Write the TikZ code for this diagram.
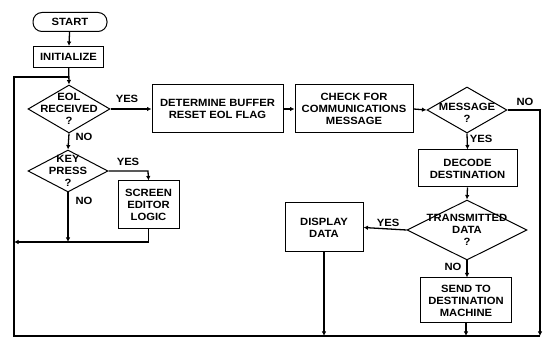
\documentclass[tikz,border=0pt]{standalone}
\usepackage{fontspec}
\setmainfont{Liberation Sans}[FakeStretch=1.07]
\usetikzlibrary{arrows.meta,shapes.geometric}
\begin{document}
\begin{tikzpicture}[x=1pt,y=-1pt,
  font=\fontsize{10.5}{12}\selectfont\bfseries,
  every node/.style={align=center},
  box/.style={draw,line width=1pt,inner sep=0pt},
  dia/.style={draw,line width=1pt,diamond,inner sep=0pt},
  txt/.style={inner sep=0pt},
  lbl/.style={inner sep=0pt},
  conn/.style={line width=1.3pt},
  arr/.style={conn,-{Latex[length=4.5pt,width=4.5pt]}}]
\useasboundingbox (0,0) rectangle (544,339);
% nodes
\node[box,rounded corners=9pt,minimum width=74pt,minimum height=19pt] (start) at (70,22) {START};
\node[box,minimum width=70pt,minimum height=21pt] (init) at (68.5,57) {INITIALIZE};
\node[dia,minimum width=82pt,minimum height=48pt] (eol) at (69,109) {};
\node[txt] at (eol) {EOL\\RECEIVED\\?};
\node[dia,minimum width=80pt,minimum height=42pt] (key) at (68,171) {};
\node[txt] at (key) {KEY\\PRESS\\?};
\node[box,minimum width=61pt,minimum height=48pt] (screen) at (148.5,205) {SCREEN\\EDITOR\\LOGIC};
\node[box,minimum width=131pt,minimum height=48pt] (det) at (217.5,109) {DETERMINE BUFFER\\RESET EOL FLAG};
\node[box,minimum width=118pt,minimum height=48pt] (chk) at (354,109) {CHECK FOR\\COMMUNICATIONS\\MESSAGE};
\node[dia,minimum width=80pt,minimum height=46pt] (msg) at (467,110) {};
\node[txt] at ([yshift=-3pt]msg) {MESSAGE\\?};
\node[box,minimum width=99pt,minimum height=37pt] (dec) at (467.5,168.5) {DECODE\\DESTINATION};
\node[dia,minimum width=120pt,minimum height=60pt] (trn) at (467,230) {};
\node[txt] at (trn) {TRANSMITTED\\DATA\\?};
\node[box,minimum width=78pt,minimum height=49pt] (disp) at (324,227.5) {DISPLAY\\DATA};
\node[box,minimum width=91pt,minimum height=45pt] (send) at (466,300.5) {SEND TO\\DESTINATION\\MACHINE};
% coordinates
\coordinate (bl) at (14,336);
\coordinate (br) at (540,336);
\coordinate (lt) at (14,77);
\coordinate (jt) at (69,77);
\coordinate (jl) at (14,242);
\coordinate (kr) at (148,171);
% connectors
\draw[arr] (start) -- (init);
\draw[arr] (init) -- (eol.north);
\draw[conn] (br) -- (bl) -- (lt) -- (jt);
\draw[arr] (eol.east) -- (det.west);
\draw[arr] (eol.south) -- (key.north);
\draw[arr] (key.east) -- (kr) -- (screen.north);
\draw[arr] (key.south) -- (key.south |- jl);
\draw[arr] (screen.south) |- (jl);
\draw[arr] (det.east) -- (chk.west);
\draw[arr] (chk.east) -- (msg.west);
\draw[arr] (msg.east) -| (br);
\draw[arr] (msg.south) -- (dec.north);
\draw[arr] (dec.south) -- (trn.north);
\draw[arr] (trn.west) -- (disp.east);
\draw[arr] (trn.south) -- (trn.south |- send.north);
\draw[arr] (disp.south) -- (disp.south |- bl);
\draw[arr] (send.south) -- (send.south |- bl);
% labels
\node[lbl] at (127,99) {YES};
\node[lbl] at (84,137) {NO};
\node[lbl] at (128,162) {YES};
\node[lbl] at (84,201) {NO};
\node[lbl] at (525,102) {NO};
\node[lbl] at (481,139) {YES};
\node[lbl] at (388,223) {YES};
\node[lbl] at (453,267) {NO};
\end{tikzpicture}
\end{document}
